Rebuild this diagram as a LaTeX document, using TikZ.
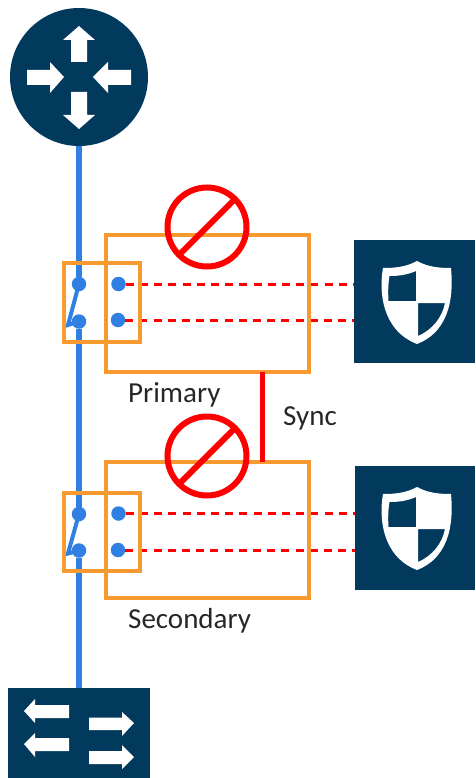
\documentclass[tikz,border=0pt]{standalone}
\usepackage{fontspec}
\setmainfont{Carlito}
\definecolor{navy}{HTML}{023A5E}
\definecolor{linkblue}{HTML}{2F80E2}
\definecolor{boxorange}{HTML}{F79A2F}
\definecolor{stopred}{HTML}{FF0000}
\tikzset{
  x=1pt,y=-1pt,
  blueline/.style={draw=linkblue,line width=5.500pt},
  bluelink/.style={draw=linkblue,line width=4pt},
  bluedot/.style={circle,fill=linkblue,minimum size=14.500pt,inner sep=0pt,outer sep=0pt},
  orangebox/.style={draw=boxorange,line width=4pt,rectangle,inner sep=0pt,outer sep=0pt},
  navybox/.style={fill=navy,rectangle,inner sep=0pt,outer sep=0pt},
  stopring/.style={circle,draw=stopred,line width=6pt,minimum size=79pt,inner sep=0pt,outer sep=0pt},
  stopbar/.style={draw=stopred,line width=6pt},
  dashline/.style={draw=stopred,line width=3pt,dash pattern=on 8pt off 6.200pt},
  syncline/.style={draw=stopred,line width=5pt},
  lbl/.style={font=\fontsize{29}{32}\selectfont,text=black!85,inner sep=0pt,anchor=base west},
  white shape/.style={fill=white,draw=none},
}
\begin{document}
\begin{tikzpicture}
\useasboundingbox (0,0) rectangle (475,778);
% devices
\node[circle,fill=navy,minimum size=138pt,inner sep=0pt,outer sep=0pt] (router) at (79,77) {};
\node[navybox,minimum width=142pt,minimum height=91pt] (switch) at (79,733) {};
\node[navybox,minimum width=121pt,minimum height=123pt] (fwa) at (414.5,301.5) {};
\node[navybox,minimum width=120pt,minimum height=124pt] (fwb) at (415,528) {};
% router arrows
\fill[white shape] (79,26)--(95,40)--(87,40)--(87,62)--(71,62)--(71,40)--(63,40)--cycle;
\fill[white shape] (79,129)--(95,115)--(87,115)--(87,92)--(71,92)--(71,115)--(63,115)--cycle;
\fill[white shape] (64,77)--(50,62)--(50,70)--(27,70)--(27,85)--(50,85)--(50,93)--cycle;
\fill[white shape] (93,77)--(108,62)--(108,70)--(131,70)--(131,85)--(108,85)--(108,93)--cycle;
% switch arrows
\fill[white shape] (24,711)--(35,699)--(35,705)--(69,705)--(69,718)--(35,718)--(35,723)--cycle;
\fill[white shape] (24,744)--(35,733)--(35,738)--(69,738)--(69,751)--(35,751)--(35,757)--cycle;
\fill[white shape] (134,723)--(122,712)--(122,717.500)--(89,717.500)--(89,730)--(122,730)--(122,736)--cycle;
\fill[white shape] (134,757)--(122,745)--(122,751)--(89,751)--(89,764)--(122,764)--(122,769)--cycle;
% shields
\foreach \dy in {0,226}{
\begin{scope}[yshift=-\dy pt]
\fill[white shape,even odd rule]
  (417,261) .. controls (428,267) and (439,268) .. (451,268)
  .. controls (453,290) and (453,330) .. (417,344)
  .. controls (381,330) and (379,290) .. (383,268)
  .. controls (395,268) and (406,267) .. (417,261) -- cycle
  (416,271) .. controls (407,275) and (398,276) .. (389.500,276)
  .. controls (388,285) and (388,293) .. (388.500,301) -- (416,301) -- cycle
  (418,303) -- (418,336) .. controls (432,330) and (442,318) .. (445,303) -- cycle;
\end{scope}}
% connector dots
\node[bluedot] (dpa) at (79,284) {};
\node[bluedot] (dpb) at (79,321.500) {};
\node[bluedot] (dsa) at (79,514) {};
\node[bluedot] (dsb) at (79,550.500) {};
\node[bluedot] (dpc) at (118.500,284) {};
\node[bluedot] (dpd) at (118,320) {};
\node[bluedot] (dsc) at (118.500,513.500) {};
\node[bluedot] (dsd) at (118,550) {};
\coordinate (kpa) at (68,325);
\coordinate (ksa) at (68,553.500);
% blue lines
\draw[blueline] (router) -- (dpa);
\draw[blueline] (dpb) -- (dsa);
\draw[blueline] (dsb) -- (switch);
\draw[bluelink] (dpa.center) -- (kpa) -- (dpb.center);
\draw[bluelink] (dsa.center) -- (ksa) -- (dsb.center);
% red dashed
\draw[dashline] (dpc) -- (fwa.west |- dpc);
\draw[dashline] (dpd) -- (fwa.west |- dpd);
\draw[dashline] (dsc) -- (fwb.west |- dsc);
\draw[dashline] (dsd) -- (fwb.west |- dsd);
% orange boxes
\node[orangebox,minimum width=203pt,minimum height=137pt] (bigp) at (207.500,303.500) {};
\node[orangebox,minimum width=76pt,minimum height=79pt] (smallp) at (102,302.500) {};
\node[orangebox,minimum width=203pt,minimum height=136pt] (bigs) at (207.500,530) {};
\node[orangebox,minimum width=76pt,minimum height=78pt] (smalls) at (102,532) {};
% sync
\coordinate (syncx) at (262,420);
\draw[syncline] (syncx |- bigp.south) -- (syncx |- bigs.north);
% stop signs
\node[stopring] (stopa) at (207,227) {};
\node[stopring] (stopb) at (207,456) {};
\draw[stopbar] (stopa.225) -- (stopa.45);
\draw[stopbar] (stopb.225) -- (stopb.45);
% labels
\node[lbl] (lp) at (128,402) {Primary};
\node[lbl] (ls) at (128,628) {Secondary};
\node[lbl] (ly) at (283,425) {Sync};
\end{tikzpicture}
\end{document}
